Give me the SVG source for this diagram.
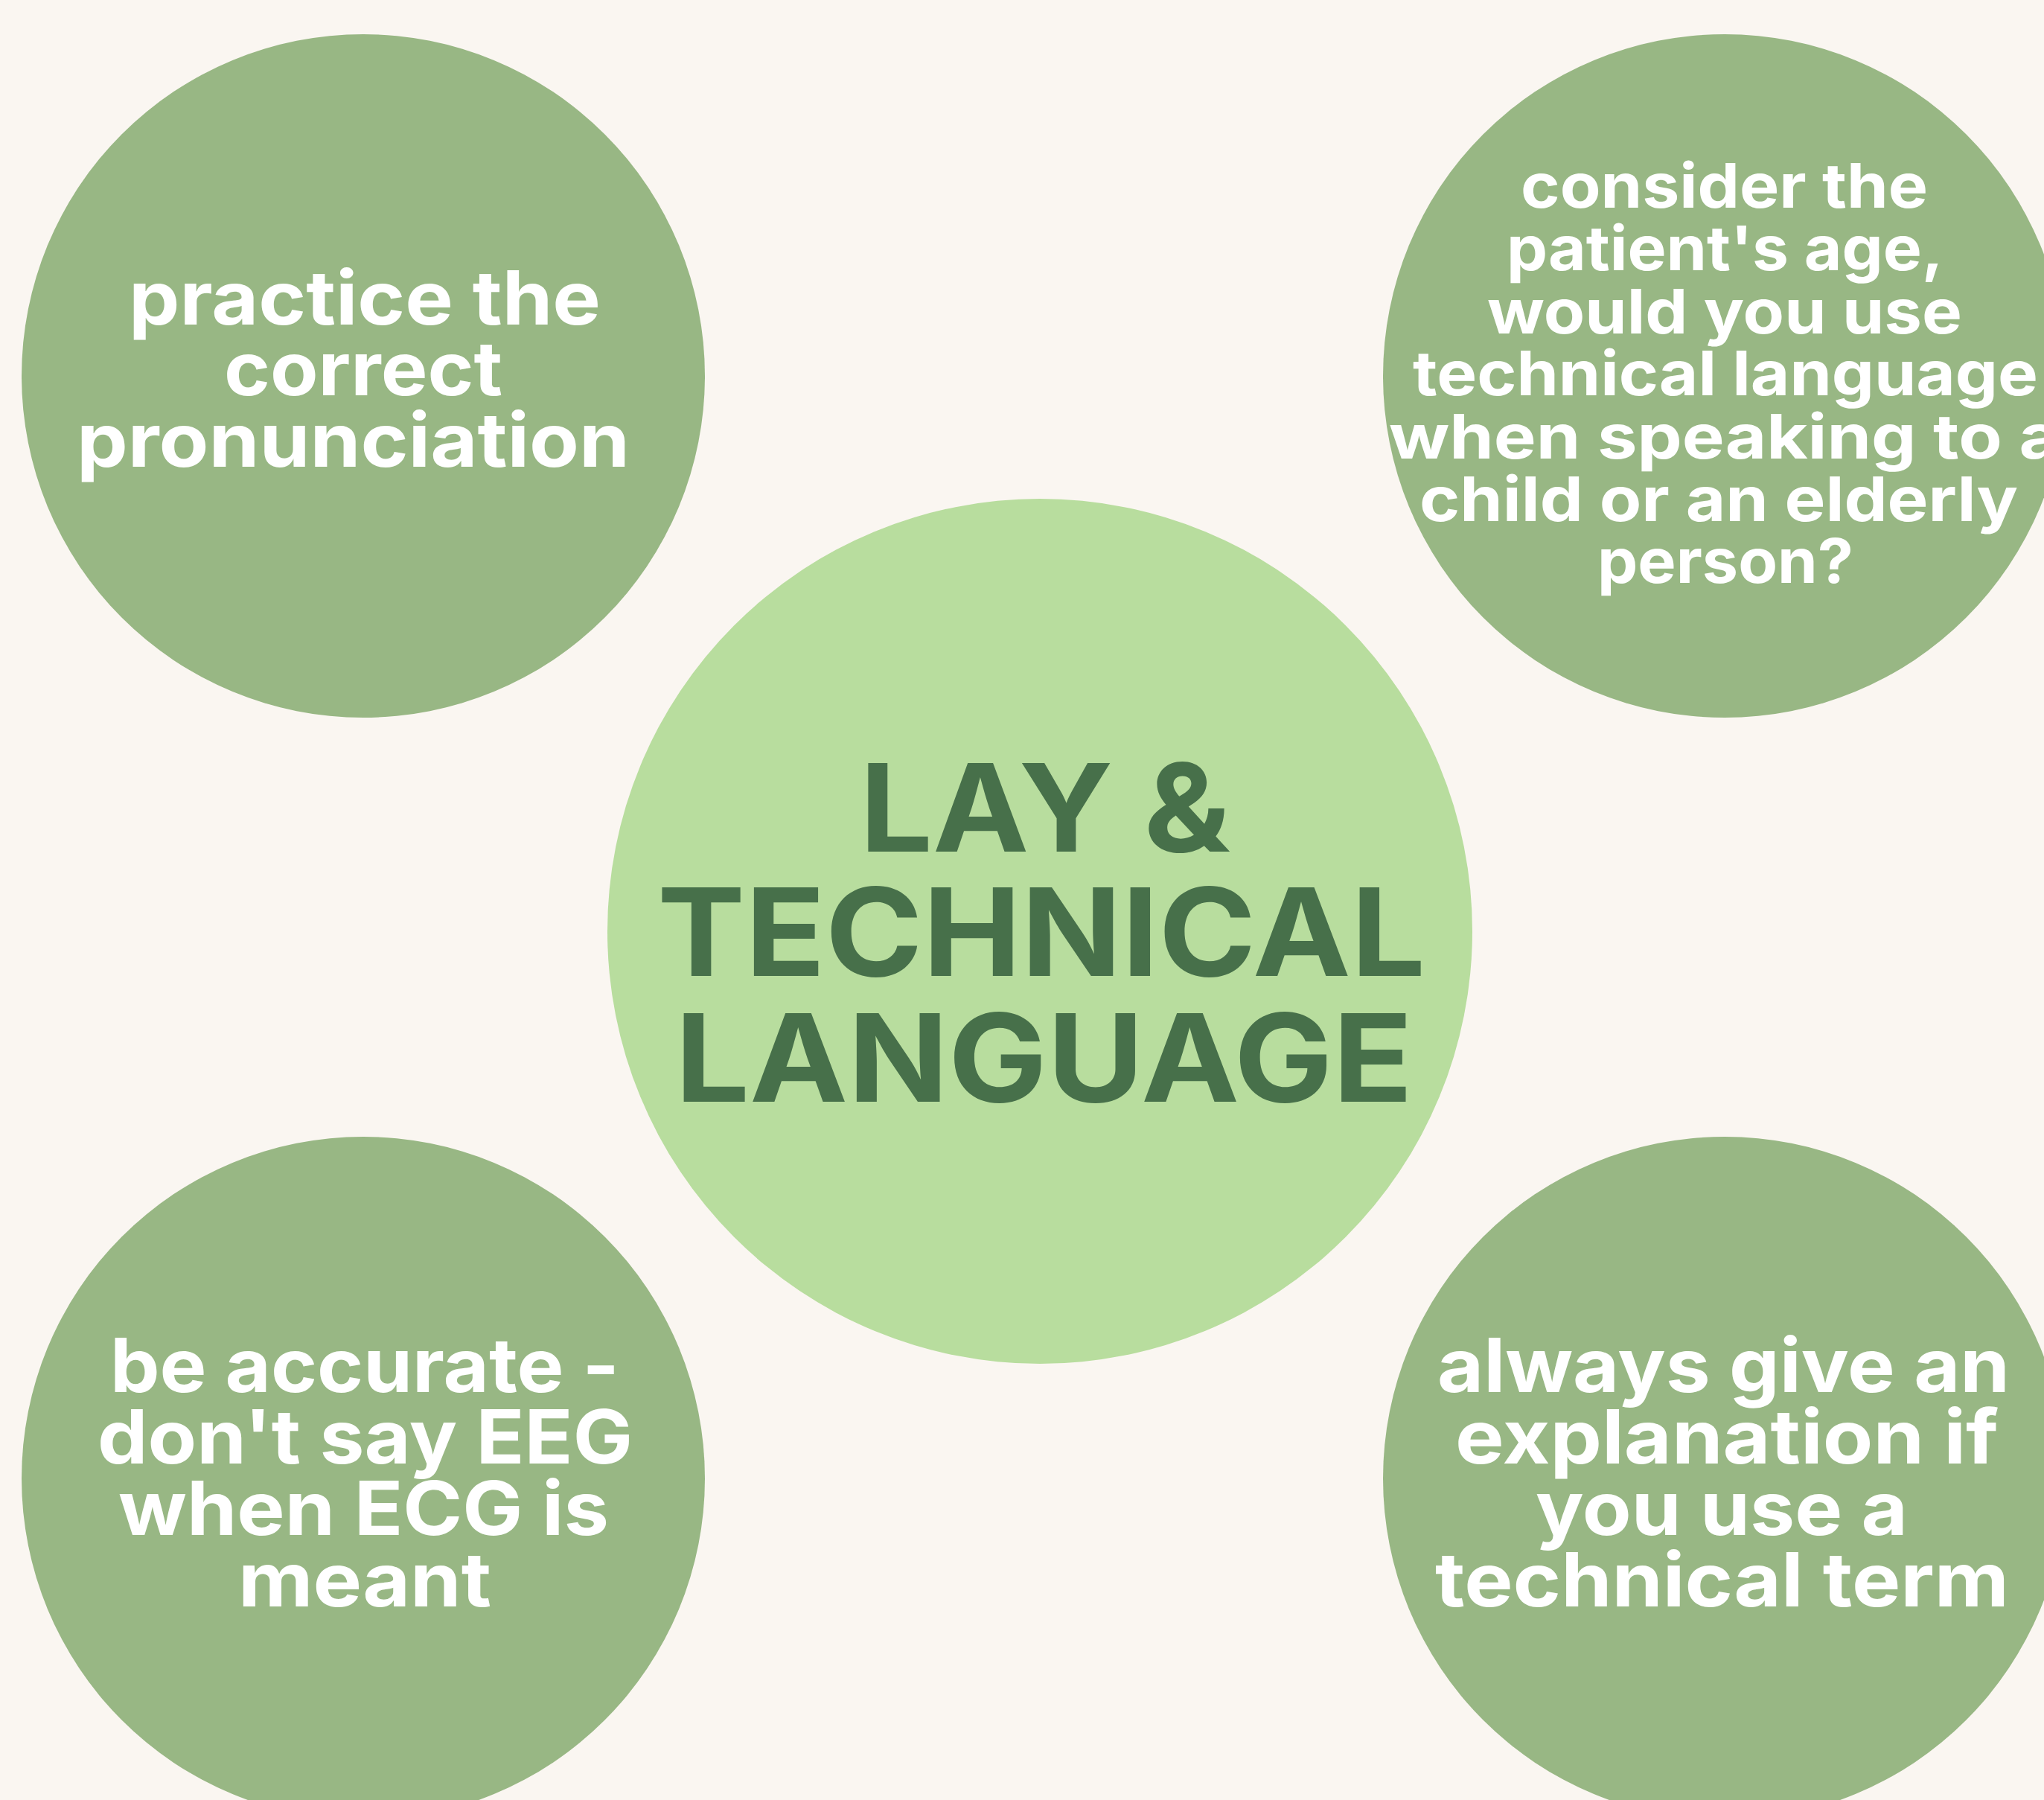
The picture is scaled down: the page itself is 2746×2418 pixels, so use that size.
<svg xmlns="http://www.w3.org/2000/svg" width="2746" height="2418" viewBox="0 0 2746 2418">
  <style>
    .bg { fill: #FAF6F1; }
    .outer { fill: #98B784; }
    .center { fill: #B8DD9E; }
    .w { fill: #FFFFFF; font-family: Inter, "DejaVu Sans", sans-serif; font-weight: 700; }
    .big { font-size: 100px; }
    .small { font-size: 83px; }
    .title { fill: #47704A; font-family: Inter, "DejaVu Sans", sans-serif; font-weight: 700; font-size: 164px; }
  </style>
  <rect class="bg" x="0" y="0" width="2746" height="2418"/>

  <g id="node-center">
    <circle class="center" cx="1397" cy="1251" r="581"/>
    <text class="title" x="1155" y="1144" textLength="498" lengthAdjust="spacingAndGlyphs">LAY &amp;</text>
    <text class="title" x="883" y="1311" textLength="1032" lengthAdjust="spacingAndGlyphs">TECHNICAL</text>
    <text class="title" x="907" y="1480" textLength="991" lengthAdjust="spacingAndGlyphs">LANGUAGE</text>
  </g>

  <g id="node-pronunciation">
    <circle class="outer" cx="488" cy="505" r="459"/>
    <text class="w big" x="173" y="436" textLength="634" lengthAdjust="spacingAndGlyphs">practice the</text>
    <text class="w big" x="301" y="531" textLength="374" lengthAdjust="spacingAndGlyphs">correct</text>
    <text class="w big" x="103" y="627" textLength="743" lengthAdjust="spacingAndGlyphs">pronunciation</text>
  </g>

  <g id="node-age">
    <circle class="outer" cx="2317" cy="505" r="459"/>
    <text class="w small" x="2043" y="279" textLength="547" lengthAdjust="spacingAndGlyphs">consider the</text>
    <text class="w small" x="2024" y="363" textLength="587" lengthAdjust="spacingAndGlyphs">patient's age,</text>
    <text class="w small" x="1998" y="448" textLength="638" lengthAdjust="spacingAndGlyphs">would you use</text>
    <text class="w small" x="1898" y="531" textLength="840" lengthAdjust="spacingAndGlyphs">technical language</text>
    <text class="w small" x="1866" y="616" textLength="902" lengthAdjust="spacingAndGlyphs">when speaking to a</text>
    <text class="w small" x="1907" y="700" textLength="804" lengthAdjust="spacingAndGlyphs">child or an elderly</text>
    <text class="w small" x="2146" y="783" textLength="344" lengthAdjust="spacingAndGlyphs">person?</text>
  </g>

  <g id="node-accurate">
    <circle class="outer" cx="488" cy="1986" r="459"/>
    <text class="w big" x="148" y="1870" textLength="684" lengthAdjust="spacingAndGlyphs">be accurate -</text>
    <text class="w big" x="131" y="1966" textLength="719" lengthAdjust="spacingAndGlyphs">don't say EEG</text>
    <text class="w big" x="159" y="2062" textLength="659" lengthAdjust="spacingAndGlyphs">when ECG is</text>
    <text class="w big" x="320" y="2158" textLength="340" lengthAdjust="spacingAndGlyphs">meant</text>
  </g>

  <g id="node-explanation">
    <circle class="outer" cx="2317" cy="1986" r="459"/>
    <text class="w big" x="1931" y="1870" textLength="769" lengthAdjust="spacingAndGlyphs">always give an</text>
    <text class="w big" x="1955" y="1966" textLength="730" lengthAdjust="spacingAndGlyphs">explanation if</text>
    <text class="w big" x="2063" y="2062" textLength="500" lengthAdjust="spacingAndGlyphs">you use a</text>
    <text class="w big" x="1928" y="2158" textLength="771" lengthAdjust="spacingAndGlyphs">technical term</text>
  </g>

  <g id="connectors"></g>
</svg>
